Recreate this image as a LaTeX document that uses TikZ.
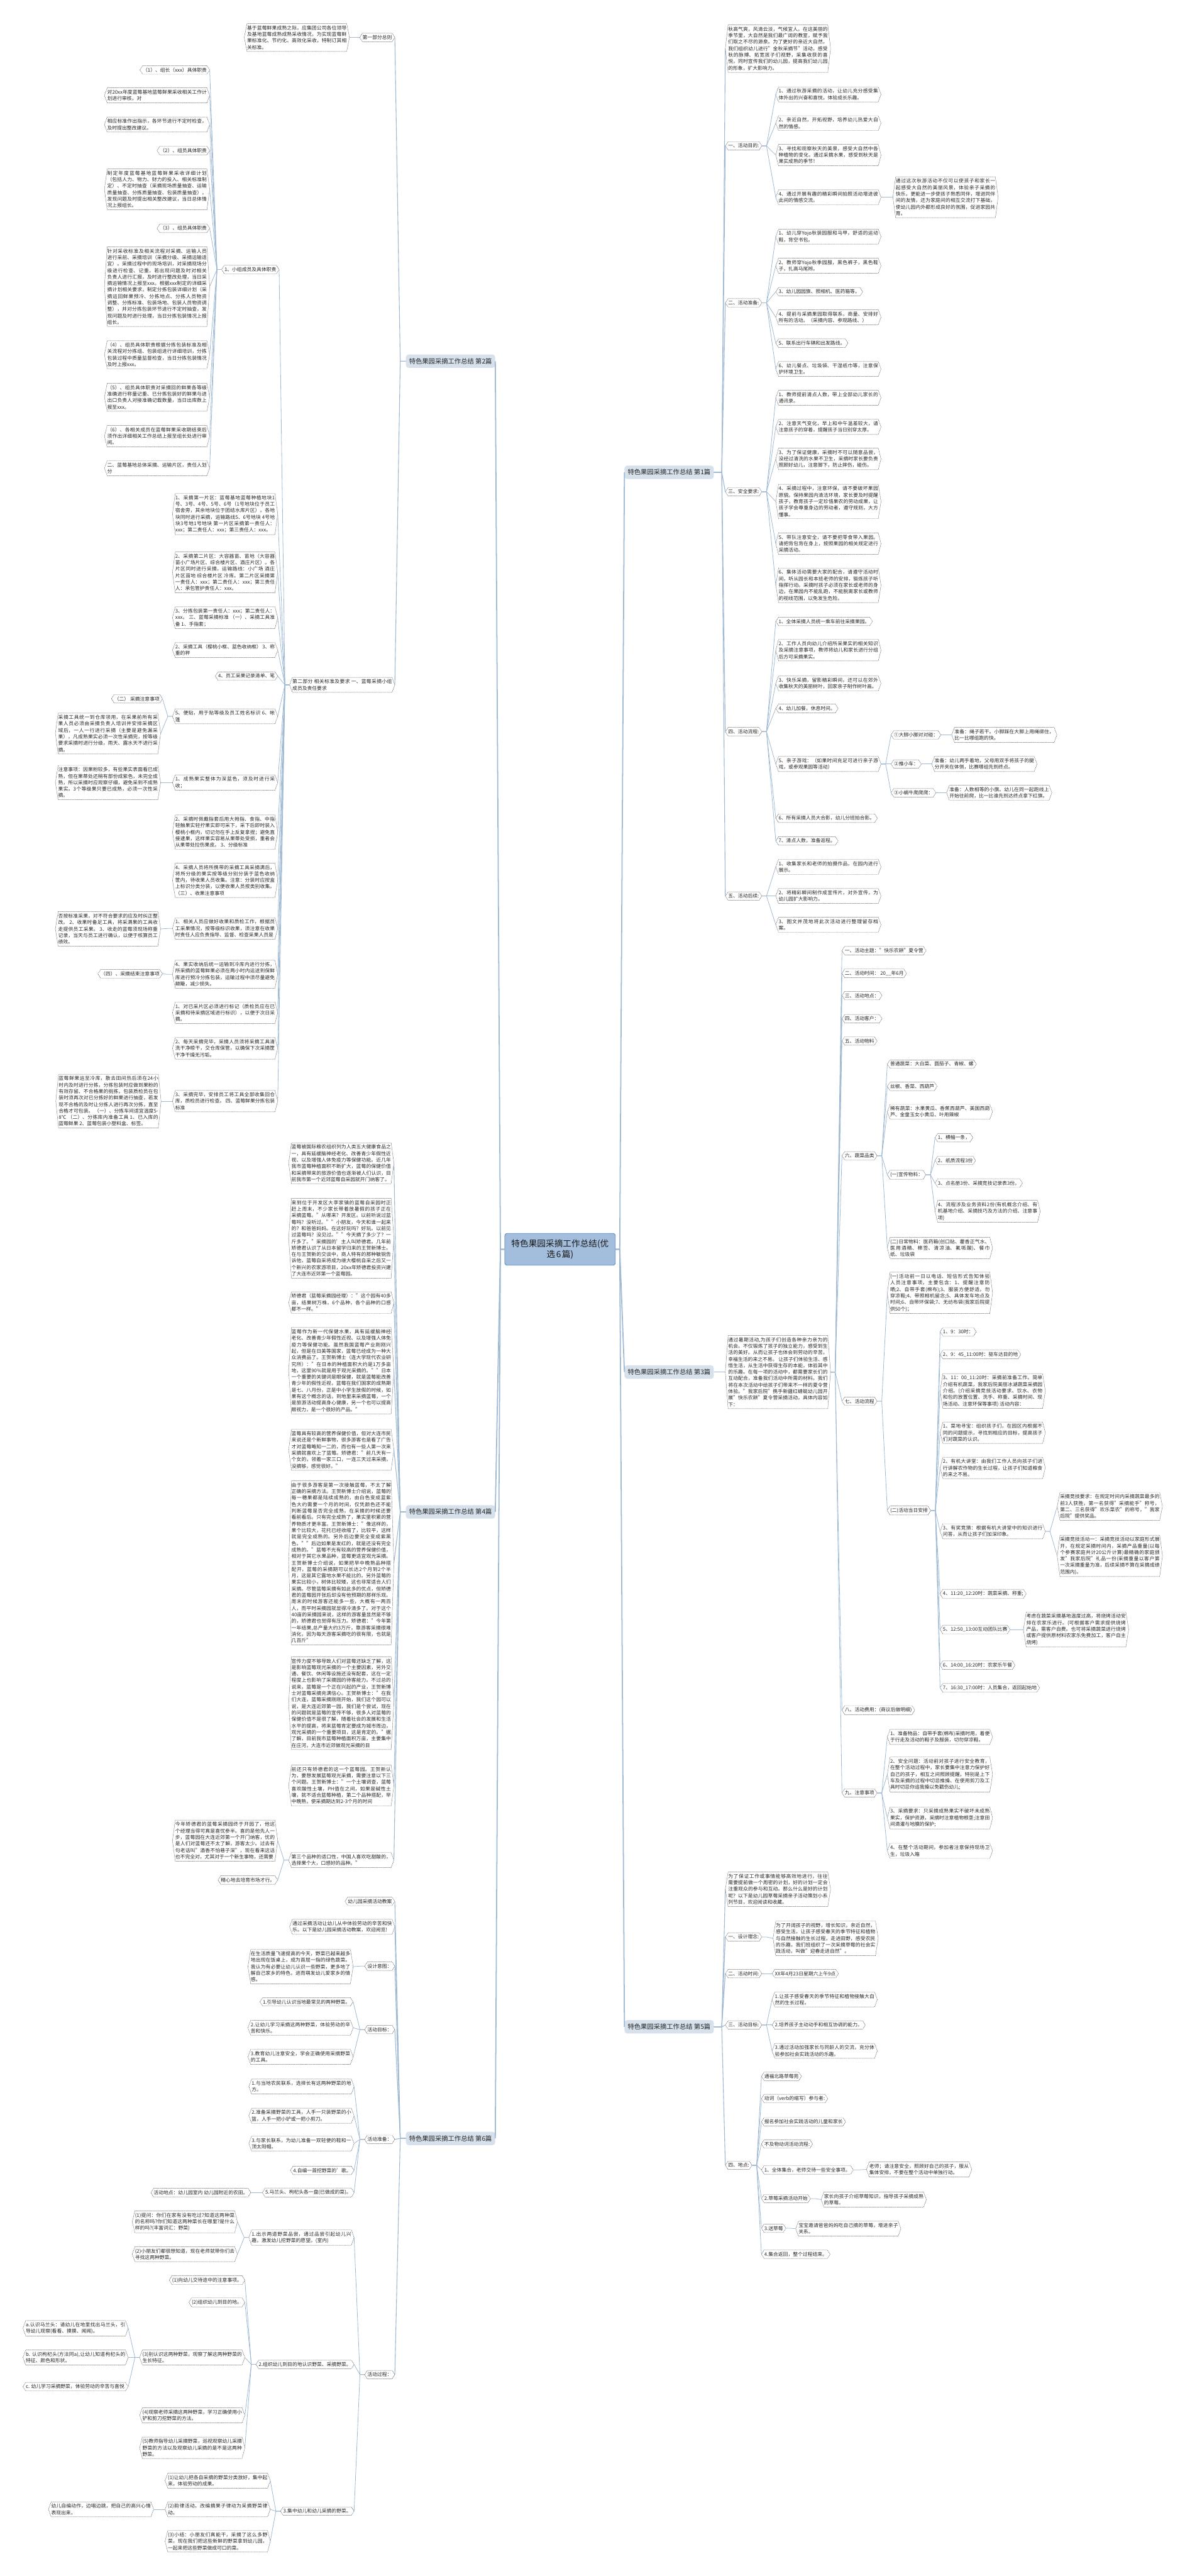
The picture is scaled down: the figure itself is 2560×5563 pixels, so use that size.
\documentclass[tikz,border=0pt]{standalone}
\usepackage{fontspec}
\setmainfont{Noto Sans CJK SC}
\usepackage{tikz}
\XeTeXlinebreaklocale "zh"
\XeTeXlinebreakskip=0pt plus 1pt
\definecolor{linkblue}{RGB}{160,186,212}
\definecolor{topicgray}{RGB}{214,225,236}
\definecolor{rootblue}{RGB}{163,190,220}
\definecolor{rootedge}{RGB}{60,110,175}

\begin{document}
\begin{tikzpicture}[x=1pt, y=-1pt,
    trunk/.style={draw=linkblue, line width=2.4pt},
    link/.style={draw=linkblue, line width=1.5pt},
    sub/.style={draw=linkblue, line width=1.1pt},
    hexline/.style={draw=black!70, line width=0.6pt, dash pattern=on 1.6pt off 1pt},
    hexa/.style={font=\fontsize{10.6}{14}\selectfont, text=black!85, inner xsep=6pt, inner ysep=4pt, align=left,
        append after command={\pgfextra{\pgfinterruptpath
            \draw[hexline] (\tikzlastnode.west) -- ([xshift=6pt]\tikzlastnode.north west) -- ([xshift=-6pt]\tikzlastnode.north east) -- (\tikzlastnode.east) -- ([xshift=-6pt]\tikzlastnode.south east) -- ([xshift=6pt]\tikzlastnode.south west) -- cycle;
        \endpgfinterruptpath}}},
    wide/.style={hexa, text width=215pt, align=justify},
    topic/.style={fill=topicgray, rounded corners=6pt, font=\fontsize{14}{17}\selectfont, text=black!85, inner xsep=7pt, inner ysep=8pt},
    rootbox/.style={fill=rootblue, draw=rootedge, line width=0.8pt, rounded corners=5pt, font=\fontsize{18.5}{24}\selectfont, text=black!90, align=center, text width=215pt, minimum height=69pt, inner xsep=12pt}
]
\fill[white] (0,0) rectangle (2560,5563);
\useasboundingbox (0,0) rectangle (2560,5563);

\node[rootbox] (root) at (1210,2698) {特色果园采摘工作总结(优\\选6篇)};

\node[topic, anchor=west] (p1) at (1349,1020) {特色果园采摘工作总结 第1篇};
\node[topic, anchor=west] (p3) at (1349,2963) {特色果园采摘工作总结 第3篇};
\node[topic, anchor=west] (p5) at (1349,4377) {特色果园采摘工作总结 第5篇};
\node[topic, anchor=east] (p2) at (1070,780) {特色果园采摘工作总结 第2篇};
\node[topic, anchor=east] (p4) at (1070,3265) {特色果园采摘工作总结 第4篇};
\node[topic, anchor=east] (p6) at (1070,4618) {特色果园采摘工作总结 第6篇};

% 第1篇
\node[wide, anchor=west] (e0) at (1567,105) {秋高气爽，风清云淡，气候宜人。在这美丽的季节里，大自然是我们最广阔的教室，赋予我们取之不尽的源泉。为了更好的亲近大自然，我们组织幼儿进行"金秋采摘节"活动，感受秋的脉搏、拓宽孩子们视野，采集收获的喜悦，同时宣传我们的幼儿园，提高我们幼儿园的形象，扩大影响力。};
\node[hexa, anchor=west] (e1) at (1567,315) {一、活动目的:};
\node[wide, anchor=west] (e1a) at (1676,204) {1、通过秋游采摘的活动，让幼儿充分感受集体外出的兴奋和喜悦，体验成长乐趣。};
\node[wide, anchor=west] (e1b) at (1676,266) {2、亲近自然，开拓视野，培养幼儿热爱大自然的情感。};
\node[wide, anchor=west] (e1c) at (1676,335) {3、寻找和观察秋天的美景，感受大自然中各种植物的变化，通过采摘水果，感受到秋天是果实成熟的季节！};
\node[wide, anchor=west] (e1d) at (1676,426) {4、通过开展有趣的精彩瞬间拍照活动增进彼此间的情感交流。};
\node[wide, anchor=west] (e1e) at (1929,426) {通过这次秋游活动不仅可以使孩子和家长一起感受大自然的美丽风景，体验亲子采摘的快乐，更能进一步使孩子熟悉同伴，增进同伴间的友情，还为家庭间的相互交流打下基础，使幼儿园内外都形成良好的氛围，促进家园共育。};
\node[hexa, anchor=west] (e2) at (1567,654) {二、活动准备:};
\node[wide, anchor=west] (e2a) at (1676,511) {1、幼儿穿Yojo秋装园服和马甲，舒适的运动鞋，背空书包。};
\node[wide, anchor=west] (e2b) at (1676,574) {2、教师穿Yojo秋季园服，黑色裤子，黑色鞋子，扎高马尾辫。};
\node[hexa, anchor=west] (e2c) at (1676,630) {3、幼儿园园旗、照相机、医药箱等。};
\node[wide, anchor=west] (e2d) at (1676,685) {4、提前与采摘果园取得联系，商量、安排好所有的活动。（采摘内容、参观路线、）};
\node[hexa, anchor=west] (e2e) at (1676,741) {5、联系出行车辆和出发路线。};
\node[wide, anchor=west] (e2f) at (1676,797) {6、幼儿餐点、垃圾袋、干湿纸巾等，注意保护环境卫生。};
\node[hexa, anchor=west] (e3) at (1567,1062) {三、安全要求:};
\node[wide, anchor=west] (e3a) at (1676,859) {1、教师提前清点人数，带上全部幼儿家长的通讯录。};
\node[wide, anchor=west] (e3b) at (1676,922) {2、注意天气变化，早上和中午温差较大，请注意孩子的穿着，提醒孩子当日别穿太厚。};
\node[wide, anchor=west] (e3c) at (1676,991) {3、为了保证健康，采摘时不可以随意品尝，没经过清洗的水果不卫生，采摘时家长要负责照顾好幼儿，注意脚下，防止摔伤，碰伤。};
\node[wide, anchor=west] (e3d) at (1676,1083) {4、采摘过程中，注意环保，请不要破坏果园原貌。保持果园内清洁环境，家长要及时提醒孩子，教育孩子一定珍惜果农的劳动成果，让孩子学会尊重身边的劳动者，遵守规则，大方懂事。};
\node[wide, anchor=west] (e3e) at (1676,1174) {5、带队注意安全，请不要把零食带入果园。请把背包背在身上，按照果园的相关规定进行采摘活动。};
\node[wide, anchor=west] (e3f) at (1676,1264) {6、集体活动需要大家的配合，请遵守活动时间，听从园长和本班老师的安排，锻炼孩子听指挥行动。采摘时孩子必须在家长或老师的身边，在果园内不能乱跑，不能脱离家长或教师的视线范围，以免发生危险。};
\node[hexa, anchor=west] (e4) at (1567,1580) {四、活动流程:};
\node[hexa, anchor=west] (e4a) at (1676,1342) {1、全体采摘人员统一乘车前往采摘果园。};
\node[wide, anchor=west] (e4b) at (1676,1404) {2、工作人员向幼儿介绍所采果实的相关知识及采摘注意事项，教师将幼儿和家长进行分组后方可采摘果实。};
\node[wide, anchor=west] (e4c) at (1676,1476) {3、快乐采摘，留影精彩瞬间，还可以在郊外收集秋天的美丽树叶，回家亲子制作树叶画。};
\node[hexa, anchor=west] (e4d) at (1676,1530) {4、幼儿加餐，休息时间。};
\node[wide, anchor=west] (e4e) at (1676,1650) {5、亲子游戏：（如果时间充足可进行亲子游戏，或参观果园等活动）};
\node[hexa, anchor=west] (g1) at (1925,1587) {①大脚小脚对对碰：};
\node[wide, anchor=west] (g1t) at (2056,1587) {准备：绳子若干。小脚踩在大脚上用绳绑住，比一比哪组跑的快。};
\node[hexa, anchor=west] (g2) at (1925,1650) {②推小车：};
\node[wide, anchor=west] (g2t) at (2013,1650) {准备：幼儿两手着地，父母用双手将孩子的腿分开夹在体侧，比赛哪组先到终点。};
\node[hexa, anchor=west] (g3) at (1925,1712) {③小蜗牛爬爬爬：};
\node[wide, anchor=west] (g3t) at (2045,1712) {准备：人数相等的小旗。幼儿在同一起跑线上开始往前爬，比一比谁先到达终点拿下红旗。};
\node[hexa, anchor=west] (e4f) at (1676,1767) {6、所有采摘人员大合影，幼儿分班拍合影。};
\node[hexa, anchor=west] (e4g) at (1676,1816) {7、清点人数，准备返程。};
\node[hexa, anchor=west] (e5) at (1567,1935) {五、活动后续:};
\node[wide, anchor=west] (e5a) at (1676,1872) {1、收集家长和老师的拍摄作品，在园内进行展示。};
\node[wide, anchor=west] (e5b) at (1676,1935) {2、将精彩瞬间制作成宣传片，对外宣传，为幼儿园扩大影响力。};
\node[wide, anchor=west] (e5c) at (1676,1997) {3、图文并茂地将此次活动进行整理留存档案。};

% 第3篇
\node[wide, anchor=west] (f0) at (1567,2963) {通过暑期活动,为孩子们创造各种亲力亲为的机会。不仅锻炼了孩子的独立能力，感受到生活的美好。从而让孩子也体会到劳动的辛苦，幸福生活的来之不易。 让孩子们体验生活、感悟生活，从生活中获得生存的本能，体验其中的乐趣。在每一项的活动中，都需要家长们的互动配合，准备我们活动中所需的材料。我们将在本次活动中给孩子们带来不一样的夏令营体验。"我家后院"携手新疆红蜻蜓幼儿园开展"快乐农耕"夏令营采摘活动，具体内容如下：};
\node[hexa, anchor=west] (f1) at (1819,2053) {一、活动主题："快乐农耕"夏令营};
\node[hexa, anchor=west] (f2) at (1819,2102) {二、活动时间： 20\_\_年6月};
\node[hexa, anchor=west] (f3) at (1819,2150) {三、活动地点：};
\node[hexa, anchor=west] (f4) at (1819,2200) {四、活动客户：};
\node[hexa, anchor=west] (f5) at (1819,2248) {五、活动物料};
\node[hexa, anchor=west] (f6) at (1819,2496) {六、蔬菜品类};
\node[hexa, anchor=west] (f6a) at (1917,2298) {普通蔬菜：大白菜、圆茄子、青椒、螺};
\node[hexa, anchor=west] (f6b) at (1917,2346) {丝椒、香菜、西葫芦};
\node[wide, anchor=west] (f6c) at (1917,2401) {稀有蔬菜：水果黄瓜、香蕉西葫芦、美国西葫芦、金童玉女小黄瓜、叶用辣椒};
\node[hexa, anchor=west] (f6d) at (1917,2537) {(一)宣传物料：};
\node[hexa, anchor=west] (f6d1) at (2020,2457) {1、横幅一条，};
\node[hexa, anchor=west] (f6d2) at (2020,2506) {2、纸质流程3份};
\node[hexa, anchor=west] (f6d3) at (2020,2555) {3、点名册3份、采摘竞技记录表3份。};
\node[wide, anchor=west] (f6d4) at (2020,2616) {4、流程涉及业务资料2份(有机概念介绍、有机基地介绍、采摘技巧及方法的介绍、注意事项)};
\node[wide, anchor=west] (f6e) at (1917,2695) {(二)日常物料：医药箱(创口贴、藿香正气水、医用酒精、棉签、清凉油、氟哌酸)、餐巾纸、垃圾袋};
\node[hexa, anchor=west] (f7) at (1819,3026) {七、活动流程};
\node[wide, anchor=west] (f7a) at (1917,2792) {(一)活动前一日以电话、短信形式告知体验人员注意事项，主要包含：1、提醒注意防晒;2、自带手套(棉布);3、服装方便舒适，勿穿凉鞋;4、带照相机留念;5、具体发车地点及时间;6、自带环保袋;7、无纺布袋(我家后院提供50个)；};
\node[hexa, anchor=west] (f7b) at (1917,3262) {(二)活动当日安排};
\node[hexa, anchor=west] (h1) at (2031,2876) {1、9：30时：};
\node[hexa, anchor=west] (h2) at (2031,2925) {2、9：45\_11:00时：驱车达目的地};
\node[wide, anchor=west] (h3) at (2031,3004) {3、11：00\_11:20时：采摘前准备工作。简单介绍有机蔬菜，我家后院美丽冰湖蔬菜采摘园介绍。(介绍采摘竞技活动要求、饮水、衣物和包的放置位置、洗手、称重、采摘时间、现场活动、注意环保等事项) 活动内容：};
\node[wide, anchor=west] (h4) at (2031,3094) {1、菜地寻宝：组织孩子们，在园区内根据不同的问题提示，寻找到相应的目标，提高孩子们对蔬菜的认识。};
\node[wide, anchor=west] (h5) at (2031,3170) {2、有机大讲堂：由我们工作人员向孩子们进行讲解农作物的生长过程，让孩子们知道粮食的来之不易。};
\node[wide, anchor=west] (h6) at (2031,3307) {3、有奖竞猜：根据有机大讲堂中的知识进行问答，从而让孩子们加深印象。};
\node[wide, anchor=west] (h6a) at (2284,3253) {采摘竞技要求：在规定时间内采摘蔬菜最多的前3人获胜，第一名获得"采摘能手"称号，第二、三名获得"欢乐菜农"的称号，"我家后院"提供奖品。};
\node[wide, anchor=west] (h6b) at (2284,3360) {采摘竞技活动一：采摘竞技活动以家庭形式展开，在规定采摘时间内，采摘产品重量(以每个参赛家庭共计20公斤计算)最精确的家庭颁发"我家后院"礼品一份(采摘重量以客户第一次采摘重量为准，后续采摘不算在采摘成绩范围内)。};
\node[hexa, anchor=west] (h7) at (2031,3442) {4、11:20\_12:20时：蔬菜采摘、称重;};
\node[hexa, anchor=west] (h8) at (2031,3519) {5、12:50\_13:00互动团队比赛};
\node[wide, anchor=west] (h8a) at (2211,3519) {考虑在蔬菜采摘基地温度过高，将烧烤活动安排在农家乐进行。(可根据客户需求提供烧烤产品，需客户自费。也可将采摘蔬菜进行烧烤或客户提供原材料农家乐免费加工，客户自主烧烤)};
\node[hexa, anchor=west] (h9) at (2031,3596) {6、14:00\_16:20时：农家乐午餐};
\node[hexa, anchor=west] (h10) at (2031,3645) {7、16:30\_17:00时：人员集合，返回起始地};
\node[hexa, anchor=west] (f8) at (1819,3693) {八、活动费用：(商议后做明细)};
\node[hexa, anchor=west] (f9) at (1819,3872) {九、注意事项};
\node[wide, anchor=west] (f9a) at (1917,3751) {1、准备物品：自带手套(棉布)采摘时用，着便于行走及活动的鞋子及服装，切勿穿凉鞋。};
\node[wide, anchor=west] (f9b) at (1917,3832) {2、安全问题：活动前对孩子进行安全教育，在整个活动过程中，家长要集中注意力保护好自己的孩子，相互之间照顾提醒。特别是上下车及采摘的过程中切忌推搡、在使用剪刀及工具时切忌你追我搡以免戳伤幼儿;};
\node[wide, anchor=west] (f9c) at (1917,3926) {3、采摘要求：只采摘成熟果实不破坏未成熟果实，保护资源，采摘时注意植物根茎;注意田间滴灌与地膜的保护;};
\node[wide, anchor=west] (f9d) at (1917,3997) {4、在整个活动期间，参加者注意保持现场卫生，垃圾入箱};

% 第5篇
\node[wide, anchor=west] (k0) at (1567,4080) {为了保证工作或事情能够高效地进行，往往需要提前做一个周密的计划，好的计划一定会注重观众的参与和互动。那么什么是好的计划呢？以下是幼儿园草莓采摘亲子活动策划小系列节目，欢迎阅读和收藏。};
\node[hexa, anchor=west] (k1) at (1567,4183) {一、设计理念:};
\node[wide, anchor=west] (k1a) at (1670,4186) {为了开阔孩子的视野，增长知识，亲近自然，感受生活，让孩子感受春天的季节特征和植物与自然接触的生长过程，走进田野，感受农民的乐趣，我们班组织了一次采摘草莓的社会实践活动，叫做"迎春走进自然"。};
\node[hexa, anchor=west] (k2) at (1567,4262) {二、活动时间:};
\node[hexa, anchor=west] (k2a) at (1668,4262) {XX年4月23日星期六上午9点};
\node[hexa, anchor=west] (k3) at (1567,4373) {三、活动目标:};
\node[wide, anchor=west] (k3a) at (1668,4318) {1.让孩子感受春天的季节特征和植物接触大自然的生长过程。};
\node[hexa, anchor=west] (k3b) at (1668,4373) {2.培养孩子主动动手和相互协调的能力。};
\node[wide, anchor=west] (k3c) at (1668,4429) {3.通过活动加强家长与同龄人的交流，充分体验参加社会实践活动的乐趣。};
\node[hexa, anchor=west] (k4) at (1567,4676) {四、地点:};
\node[hexa, anchor=west] (k4a) at (1645,4484) {通福北路草莓苑};
\node[hexa, anchor=west] (k4b) at (1645,4532) {动词（verb的缩写）参与者:};
\node[hexa, anchor=west] (k4c) at (1645,4582) {报名参加社会实践活动的儿童和家长};
\node[hexa, anchor=west] (k4d) at (1645,4630) {不及物动词活动流程:};
\node[hexa, anchor=west] (k4e) at (1645,4686) {1、全体集合，老师交待一些安全事项。};
\node[wide, anchor=west] (k4e1) at (1872,4685) {老师；请注意安全，照顾好自己的孩子，服从集体安排，不要在整个活动中单独行动。};
\node[hexa, anchor=west] (k4f) at (1645,4748) {2.草莓采摘活动开始};
\node[wide, anchor=west] (k4f1) at (1774,4750) {家长向孩子介绍草莓知识，指导孩子采摘成熟的草莓。};
\node[hexa, anchor=west] (k4g) at (1645,4812) {3.送草莓};
\node[wide, anchor=west] (k4g1) at (1719,4813) {宝宝邀请爸爸妈妈吃自己摘的草莓，增进亲子关系。};
\node[hexa, anchor=west] (k4h) at (1645,4868) {4.集合返回，整个过程结束。};

% 第2篇
\node[hexa, anchor=east] (a1) at (853,81) {第一部分总则};
\node[wide, anchor=east] (a1t) at (755,81) {基于蓝莓鲜果成熟之际，应集团公司各位领导及基地蓝莓成熟成熟采收情况，为实现蓝莓鲜果标准化、节约化、高效化采收，特制订其相关标准。};
\node[wide, anchor=east] (b0) at (853,1479) {第二部分 相关标准及要求 一、蓝莓采摘小组成员及责任要求};
\node[hexa, anchor=east] (b1) at (603,582) {1、小组成员及具体职责};
\node[hexa, anchor=east] (b1a) at (453,151) {（1）、组长（xxx）具体职责};
\node[wide, anchor=east] (b1b) at (453,206) {对20xx年度蓝莓基地蓝莓鲜果采收相关工作计划进行审核，对};
\node[wide, anchor=east] (b1c) at (453,269) {相应标准作出指示，各环节进行不定时检查，及时提出整改建议。};
\node[hexa, anchor=east] (b1d) at (453,325) {（2）、组员具体职责};
\node[wide, anchor=east] (b1e) at (453,409) {制定年度蓝莓基地蓝莓鲜果采收详细计划（包括人力、物力、财力的投入、相关标准制定）、不定时抽查（采摘现场质量抽查、运输质量抽查、分拣质量抽查、包装质量抽查），发现问题及时提出相关整改建议，当日总体情况上报组长。};
\node[hexa, anchor=east] (b1f) at (453,493) {（3）、组员具体职责};
\node[wide, anchor=east] (b1g) at (453,619) {针对采收标准及相关流程对采摘、运输人员进行采前、采摘培训（采摘分级、采摘运输适宜）。采摘过程中的现场培训，对采摘现场分级进行检查、记重，若出现问题及时对相关负责人进行汇报，及时进行整改处理，当日采摘运输情况上报至xxx。根据xxx制定的详细采摘计划相关要求，制定分拣包装详细计划（采摘运回鲜果预冷、分拣地点、分拣人员物资调整、分拣标准、包装场地、包装人员物资调整），并对分拣包装环节进行不定时抽查，发现问题及时进行处理，当日分拣包装情况上报组长。};
\node[wide, anchor=east] (b1h) at (453,766) {（4）、组员具体职责根据分拣包装标准及相关流程对分拣组、包装组进行详细培训，分拣包装过程中质量监督检查，当日分拣包装情况及时上报xxx。};
\node[wide, anchor=east] (b1i) at (453,858) {（5）、组员具体职责对采摘回的鲜果各等级准确进行称量记重、已分拣包装好的鲜果与进出口负责人对接准确记载数量，当日出库数上报至xxx。};
\node[wide, anchor=east] (b1j) at (453,942) {（6）、各相关成员在蓝莓鲜果采收期结束后须作出详细相关工作总结上报至组长处进行审阅。};
\node[wide, anchor=east] (b1k) at (453,1011) {二、蓝莓基地总体采摘、运输片区，责任人划分};
\node[wide, anchor=east] (b2) at (600,1110) {1、采摘第一片区：蓝莓基地蓝莓种植地块1号、3号、4号、5号、6号（1号地块位于员工宿舍旁，其余地块位于团结水库片区）。各地块同时进行采摘，运输路线5、6号地块 4号地块3号地1号地块 第一片区采摘第一责任人：xxx；第二责任人：xxx；第三责任人：xxx。};
\node[wide, anchor=east] (b3) at (600,1236) {2、采摘第二片区：大容器苗、苗地（大容器苗小广场片区、综合楼片区、酒庄片区）。各片区同时进行采摘，运输路线：小广场 酒庄片区苗地 综合楼片区 冷库。第二片区采摘第一责任人：xxx；第二责任人：xxx；第三责任人：承包管护责任人：xxx。};
\node[wide, anchor=east] (b4) at (600,1334) {3、分拣包装第一责任人：xxx；第二责任人：xxx。 三、蓝莓采摘标准 （一）、采摘工具准备 1、手指套；};
\node[wide, anchor=east] (b5) at (600,1404) {2、采摘工具（樱桃小框、蓝色收纳框） 3、称重的秤};
\node[hexa, anchor=east] (b6) at (600,1460) {4、员工采果记录清单、笔};
\node[wide, anchor=east] (b7) at (600,1547) {5、便贴，用于贴等级及员工姓名标识 6、帐篷};
\node[hexa, anchor=east] (b7a) at (351,1509) {（二） 采摘注意事项};
\node[wide, anchor=east] (b7b) at (347,1584) {采摘工具统一到仓库领用，在采果前所有采果人员必须由采摘负责人培训并安排采摘区域后，一人一行进行采摘（主要是避免漏采果），凡成熟果实必须一次性采摘完，按等级要求采摘时进行分级，雨天、露水天不进行采摘。};
\node[wide, anchor=east] (b8) at (600,1690) {1、成熟果实整体为深蓝色，须及时进行采收；};
\node[wide, anchor=east] (b8a) at (347,1690) {注意事项：因果粉较多，有些果实表面看已成熟，但在果蒂处还稍有部份成紫色，未完全成熟，所以采摘时应观察仔细，避免采到不成熟果实。3个等级果只要已成熟，必须一次性采摘。};
\node[wide, anchor=east] (b9) at (600,1797) {2、采摘时佩戴指套后用大拇指、食指、中指轻触果实轻拧果实即可采下，采下后即时装入樱桃小框内，切记勿在手上反复拿捏；避免直接逮果，这样果实容易从果蒂处受损，重者会从果蒂处拉伤果皮。 3、分级标准};
\node[wide, anchor=east] (b10) at (600,1901) {4、采摘人员将所携带的采摘工具采摘满后，将所分级的果实按等级分别分装于蓝色收纳筐内，待收果人员收集。注意：分装时应按盒上标识分类分装，以便收果人员按类别收集。 （三）、收果注意事项};
\node[wide, anchor=east] (b11) at (600,2005) {1、相关人员应做好收果和质检工作，根据员工采果情况，按等级标识收果，须注意在收果时责任人应负责指导、监督、检查采果人员是};
\node[wide, anchor=east] (b11a) at (347,2006) {否按标准采果，对不符合要求的应及时纠正整改。 2、收果时备足工具，将采满果的工具收走提供员工采果。 3、收走的蓝莓须现场称重记录，当天与员工进行确认，以便于核算员工绩效。};
\node[wide, anchor=east] (b12) at (600,2104) {4、果实收纳后统一运输到冷库内进行分拣，所采摘的蓝莓鲜果必须在两小时内运送到保鲜库进行预冷分拣包装，运输过程中须尽量避免颠簸，减少损失。};
\node[hexa, anchor=east] (b12a) at (351,2103) {（四）、采摘结束注意事项};
\node[wide, anchor=east] (b13) at (600,2187) {1、对已采片区必须进行标记（质检员应在已采摘和待采摘区域进行标识），以便于次日采摘。};
\node[wide, anchor=east] (b14) at (600,2264) {2、每天采摘完毕，采摘人员须将采摘工具清洗干净晾干，交仓库保管，以确保下次采摘筐干净干燥无污垢。};
\node[wide, anchor=east] (b15) at (600,2378) {3、采摘完毕，安排员工将工具全部收集回仓库，质检员进行检查。 四、蓝莓鲜果分拣包装标准};
\node[wide, anchor=east] (b15a) at (348,2378) {蓝莓鲜果运至冷库，散去田间热后须在24小时内及时进行分拣，分拣包装时应做到果粉的有效存留、不合格果的挑拣，包装质检员在包装时须再次对已分拣好的鲜果进行抽查，若发现不合格的及时让分拣人进行再次分拣，直至合格才可包装。 （一）、分拣车间适宜温度5-8℃ （二）、分拣库内准备工具 1、已入库的蓝莓鲜果 2、蓝莓包装小塑料盒、标签。};

% 第4篇
\node[wide, anchor=east] (c1) at (851,2512) {蓝莓被国际粮农组织列为人类五大健康食品之一，具有延缓脑神经老化、改善青少年假性近视、以及增强人体免疫力等保健功能。近几年我市蓝莓种植面积不断扩大，蓝莓的保健价值和采摘带来的旅游价值也逐渐被人们认识，目前我市第一个近郊蓝莓自采园就开门纳客了。};
\node[wide, anchor=east] (c2) at (851,2674) {来到位于开发区大李家镇的蓝莓自采园时正赶上周末，不少家长带着放暑假的孩子正在采摘蓝莓。"从哪来？开发区。以前听说过蓝莓吗？没听过。""小朋友，今天和谁一起来的？和爸爸妈妈。在这好玩吗？好玩。以前见过蓝莓吗？没见过。""今天摘了多少了？一斤多了。"采摘园的'主人叫矫德君。几年前矫德君认识了从日本留学归来的王贺新博士。在与王贺新的交谈中，商人特有的那种敏锐告诉他，蓝莓自采将成为继大樱桃自采之后又一个新兴的农家游项目，20xx年矫德君投资兴建了大连市近郊第一个蓝莓园。};
\node[wide, anchor=east] (c3) at (851,2813) {矫德君（蓝莓采摘园经理）："这个园有40多亩，结果树万株，6个品种，各个品种的口感都不一样。"};
\node[wide, anchor=east] (c4) at (851,2960) {蓝莓作为新一代保健水果，具有延缓脑神经老化、改善青少年假性近视、以及增强人体免疫力等保健功能。虽然我国蓝莓产业刚刚兴起，但是在日美等国家，蓝莓已经成为一种大众消费品了。王贺新博士（连大学现代农业研究所）："在日本的种植面积大约是1万多亩地，这里90\%就是用于观光采摘的。""日本一个重要的关键词是眼保健，就是蓝莓能改善青少年的假性近视，蓝莓在我们国家的成熟期是七、八月份，正是中小学生放假的时候，如果有这个概念的话，到地里来采摘蓝莓，一个是旅游活动提高身心健康，另一个也可以提高眼视力，是一个很好的产品。"};
\node[wide, anchor=east] (c5) at (851,3131) {蓝莓具有较高的营养保健价值，但对大连市民来说还是个新鲜事物，很多游客也是看了广告才对蓝莓略知一二的，而也有一些人第一次来采摘就喜欢上了蓝莓。矫德君："前几天有一个女的，领着一家三口，一连三天过来采摘，没摘够，感觉很好。"};
\node[wide, anchor=east] (c6) at (851,3375) {由于很多游客是第一次接触蓝莓，不太了解正确的采摘方法。王贺新博士介绍说，蓝莓的每一穗果都是陆续成熟的，由白色变成蓝紫色大约需要一个月的时间，仅凭颜色还不能判断蓝莓是否完全成熟，在采摘的时候还要看前看后。只有完全成熟了，果实里积累的营养物质才更丰富。王贺新博士："像这样的，果个比较大，花托已经收缩了，比较平，这样就是完全成熟的。另外后边要完全变成紫黑色。""后边如果是发红的，就是还没有完全成熟的。"蓝莓不光有较高的营养保健价值，相对于其它水果品种，蓝莓更适宜观光采摘。王贺新博士介绍说，如果把早中晚熟品种搭配开，蓝莓的采摘期可以长达2个月到2个半月，这是其它露地水果不能比的。另外蓝莓的果实比较小，树体比较矮，这也非常适合人们采摘。尽管蓝莓采摘有如此多的优点，但矫德君的蓝莓园开张后却没有他预期的那样乐观。周末的时候游客还能多一些，大概有一两百人，而平时采摘园就显得冷清多了。对于这个40亩的采摘园来说，这样的游客量显然是不够的，矫德君也觉得有压力。矫德君："今年第一年结果,总产量大约3万斤，靠游客采摘很难消化，因为每天游客采摘吃的很有限，也就是几百斤"};
\node[wide, anchor=east] (c7) at (851,3678) {宣传力度不够导致人们对蓝莓还缺乏了解，这是影响蓝莓观光采摘的一个主要因素，另外交通、餐饮、休闲等设施还没有配套，这在一定程度上也影响了采摘园的待客能力。不过总的说来，蓝莓是一个正在兴起的产业，王贺新博士对蓝莓采摘充满信心。王贺新博士："在我们大连，蓝莓采摘刚刚开始，我们这个园可以说，是大连近郊第一园，我们是个尝试，现在的问题就是蓝莓的宣传不够，很多人对蓝莓的保健价值不是很了解，随着社会的发展和生活水平的提高，将来蓝莓肯定要成为城市周边，观光采摘的一个重要项目，这是肯定的。"据了解，目前我市蓝莓种植面积万亩，主要集中在庄河，大连市近郊做观光采摘的目};
\node[wide, anchor=east] (c8) at (851,3856) {前还只有矫德君的这一个蓝莓园。王贺新认为，要想发展蓝莓观光采摘，需要注意以下三个问题。王贺新博士："一个土壤调查，蓝莓喜欢酸性土壤，PH值在之间，如果是碱性土壤，就不适合蓝莓种植，第二个品种搭配，早中晚熟，使采摘期达到2-3个月的时间};
\node[wide, anchor=east] (c9) at (851,4017) {第三个品种的适口性，中国人喜欢吃甜酸的，选择果个大，口感好的品种。"};
\node[wide, anchor=east] (c9a) at (600,3975) {今年矫德君的蓝莓采摘园终于开园了，他这个经理当得可真是喜忧参半。喜的是他先人一步，蓝莓园在大连近郊第一个开门纳客，忧的是人们对蓝莓还不太了解，游客太少。过去有句老话叫"酒香不怕巷子深"，现在看来这话也不完全对，尤其对于一个新生事物，还需要};
\node[hexa, anchor=east] (c9b) at (600,4060) {精心地去培育市场才行。};

% 第6篇
\node[hexa, anchor=east] (d1) at (853,4106) {幼儿园采摘活动教案};
\node[wide, anchor=east] (d2) at (853,4161) {通过采摘活动让幼儿从中体验劳动的辛苦和快乐。以下是幼儿园采摘活动教案，欢迎阅览!};
\node[hexa, anchor=east] (d3) at (853,4246) {设计意图：};
\node[wide, anchor=east] (d3a) at (763,4247) {在生活质量飞速提高的今天，野菜已越来越多地出现在饭桌上，成为首屈一指的绿色蔬菜。我认为有必要让幼儿认识一些野菜，更多地了解自己家乡的特色，进而萌发幼儿爱家乡的情感。};
\node[hexa, anchor=east] (d4) at (853,4383) {活动目标：};
\node[hexa, anchor=east] (d4a) at (763,4323) {1.引导幼儿认识当地最常见的两种野菜。};
\node[wide, anchor=east] (d4b) at (763,4379) {2.让幼儿学习采摘这两种野菜，体验劳动的辛苦和快乐。};
\node[wide, anchor=east] (d4c) at (763,4442) {3.教育幼儿注意安全，学会正确使用采摘野菜的工具。};
\node[hexa, anchor=east] (d5) at (853,4620) {活动准备：};
\node[wide, anchor=east] (d5a) at (765,4506) {1.与当地农民联系，选择长有这两种野菜的地方。};
\node[wide, anchor=east] (d5b) at (765,4569) {2.准备采摘野菜的工具，人手一只装野菜的小篮，人手一把小铲或一把小剪刀。};
\node[wide, anchor=east] (d5c) at (765,4629) {3.与家长联系，为幼儿准备一双轻便的鞋和一顶太阳帽。};
\node[hexa, anchor=east] (d5d) at (765,4687) {4.自编一首挖野菜的'歌。};
\node[hexa, anchor=east] (d5e) at (765,4735) {5.马兰头、枸杞头各一盘(已做成的菜)。};
\node[hexa, anchor=east] (d5f) at (542,4735) {活动地点：幼儿园室内 幼儿园附近的农田。};
\node[hexa, anchor=east] (d6) at (853,5128) {活动过程：};
\node[wide, anchor=east] (d6a) at (765,4832) {1.出示两道野菜品尝，通过品尝引起幼儿兴趣，激发幼儿挖野菜的愿望。(室内)};
\node[wide, anchor=east] (d6a1) at (513,4798) {(1)提问：你们在家有没有吃过?知道这两种菜的名称吗?你们知道这两种菜长在哪里?是什么样的吗?(丰富词汇：野菜)};
\node[wide, anchor=east] (d6a2) at (513,4868) {(2)小朋友们都很想知道，现在老师就带你们去寻找这两种野菜。};
\node[hexa, anchor=east] (d6b) at (765,5106) {2.组织幼儿到目的地认识野菜、采摘野菜。};
\node[hexa, anchor=east] (d6b1) at (529,4924) {(1)向幼儿交待途中的注意事项。};
\node[hexa, anchor=east] (d6b2) at (529,4972) {(2)组织幼儿到目的地。};
\node[wide, anchor=east] (d6b3) at (529,5091) {(3)别认识这两种野菜，观察了解这两种野菜的生长特征。};
\node[wide, anchor=east] (d6b3a) at (277,5028) {a.认识马兰头：请幼儿在地里找出马兰头，引导幼儿观察(看看、摸摸、闻闻)。};
\node[wide, anchor=east] (d6b3b) at (277,5091) {b. 认识枸杞头(方法同a),让幼儿知道枸杞头的特征、颜色和形状。};
\node[wide, anchor=east] (d6b3c) at (277,5154) {c. 幼儿学习采摘野菜，体验劳动的辛苦与喜悦};
\node[wide, anchor=east] (d6b4) at (529,5216) {(4)观察老师采摘这两种野菜，学习正确使用小铲和剪刀挖野菜的方法。};
\node[wide, anchor=east] (d6b5) at (529,5286) {(5)教师指导幼儿采摘野菜，巡视观察幼儿采摘野菜的方法以及观察幼儿采摘的是不是这两种野菜。};
\node[hexa, anchor=east] (d6c) at (765,5423) {3.集中幼儿和幼儿采摘的野菜。};
\node[wide, anchor=east] (d6c1) at (584,5357) {(1)让幼儿把各自采摘的野菜分类放好，集中起来，体验劳动的成果。};
\node[wide, anchor=east] (d6c2) at (584,5419) {(2)韵律活动。改编摘果子律动为采摘野菜律动。};
\node[wide, anchor=east] (d6c2a) at (332,5419) {幼儿自编动作，边唱边跳，把自己的高兴心情表现出来。};
\node[wide, anchor=east] (d6c3) at (584,5488) {(3)小结：小朋友们真能干，采摘了这么多野菜，现在我们把这些新鲜的野菜拿到幼儿园，一起来把这些野菜做成可口的菜。};

% connectors
\foreach \p in {p2,p4,p6} \draw[trunk] (root.west) -- ++(-9,0) -- (\p.east);
\foreach \p in {p1,p3,p5} \draw[trunk] (root.east) -- ++(9,0) -- (\p.west);

\foreach \c in {e0,e1,e2,e3,e4,e5} \draw[link] (p1.east) -- ++(17,0) -- (\c.west);
\draw[link] (p3.east) -- ++(17,0) -- (f0.west);
\foreach \c in {k0,k1,k2,k3,k4} \draw[link] (p5.east) -- ++(17,0) -- (\c.west);
\foreach \c in {a1,b0} \draw[link] (p2.west) -- ++(-12,0) -- (\c.east);
\foreach \c in {c1,c2,c3,c4,c5,c6,c7,c8,c9} \draw[link] (p4.west) -- ++(-12,0) -- (\c.east);
\foreach \c in {d1,d2,d3,d4,d5,d6} \draw[link] (p6.west) -- ++(-12,0) -- (\c.east);

\foreach \c in {e1a,e1b,e1c,e1d} \draw[sub] (e1.east) -- ++(10,0) -- (\c.west);
\draw[sub] (e1d.east) -- ++(10,0) -- (e1e.west);
\foreach \c in {e2a,e2b,e2c,e2d,e2e,e2f} \draw[sub] (e2.east) -- ++(10,0) -- (\c.west);
\foreach \c in {e3a,e3b,e3c,e3d,e3e,e3f} \draw[sub] (e3.east) -- ++(10,0) -- (\c.west);
\foreach \c in {e4a,e4b,e4c,e4d,e4e,e4f,e4g} \draw[sub] (e4.east) -- ++(10,0) -- (\c.west);
\foreach \c in {g1,g2,g3} \draw[sub] (e4e.east) -- ++(10,0) -- (\c.west);
\foreach \c/\t in {g1/g1t,g2/g2t,g3/g3t} \draw[sub] (\c.east) -- ++(10,0) -- (\t.west);
\foreach \c in {e5a,e5b,e5c} \draw[sub] (e5.east) -- ++(10,0) -- (\c.west);

\foreach \c in {f1,f2,f3,f4,f5,f6,f7,f8,f9} \draw[sub] (f0.east) -- ++(10,0) -- (\c.west);
\foreach \c in {f6a,f6b,f6c,f6d,f6e} \draw[sub] (f6.east) -- ++(10,0) -- (\c.west);
\foreach \c in {f6d1,f6d2,f6d3,f6d4} \draw[sub] (f6d.east) -- ++(10,0) -- (\c.west);
\foreach \c in {f7a,f7b} \draw[sub] (f7.east) -- ++(10,0) -- (\c.west);
\foreach \c in {h1,h2,h3,h4,h5,h6,h7,h8,h9,h10} \draw[sub] (f7b.east) -- ++(10,0) -- (\c.west);
\foreach \c in {h6a,h6b} \draw[sub] (h6.east) -- ++(10,0) -- (\c.west);
\draw[sub] (h8.east) -- ++(10,0) -- (h8a.west);
\foreach \c in {f9a,f9b,f9c,f9d} \draw[sub] (f9.east) -- ++(10,0) -- (\c.west);

\draw[sub] (k1.east) -- ++(10,0) -- (k1a.west);
\draw[sub] (k2.east) -- ++(10,0) -- (k2a.west);
\foreach \c in {k3a,k3b,k3c} \draw[sub] (k3.east) -- ++(10,0) -- (\c.west);
\foreach \c in {k4a,k4b,k4c,k4d,k4e,k4f,k4g,k4h} \draw[sub] (k4.east) -- ++(10,0) -- (\c.west);
\foreach \c/\t in {k4e/k4e1,k4f/k4f1,k4g/k4g1} \draw[sub] (\c.east) -- ++(10,0) -- (\t.west);

\draw[sub] (a1.west) -- ++(-10,0) -- (a1t.east);
\foreach \c in {b1,b2,b3,b4,b5,b6,b7,b8,b9,b10,b11,b12,b13,b14,b15} \draw[sub] (b0.west) -- ++(-10,0) -- (\c.east);
\foreach \c in {b1a,b1b,b1c,b1d,b1e,b1f,b1g,b1h,b1i,b1j,b1k} \draw[sub] (b1.west) -- ++(-10,0) -- (\c.east);
\foreach \c in {b7a,b7b} \draw[sub] (b7.west) -- ++(-10,0) -- (\c.east);
\foreach \c/\t in {b8/b8a,b11/b11a,b12/b12a,b15/b15a} \draw[sub] (\c.west) -- ++(-10,0) -- (\t.east);

\foreach \c in {c9a,c9b} \draw[sub] (c9.west) -- ++(-10,0) -- (\c.east);

\draw[sub] (d3.west) -- ++(-10,0) -- (d3a.east);
\foreach \c in {d4a,d4b,d4c} \draw[sub] (d4.west) -- ++(-10,0) -- (\c.east);
\foreach \c in {d5a,d5b,d5c,d5d,d5e} \draw[sub] (d5.west) -- ++(-10,0) -- (\c.east);
\draw[sub] (d5e.west) -- ++(-10,0) -- (d5f.east);
\foreach \c in {d6a,d6b,d6c} \draw[sub] (d6.west) -- ++(-10,0) -- (\c.east);
\foreach \c in {d6a1,d6a2} \draw[sub] (d6a.west) -- ++(-10,0) -- (\c.east);
\foreach \c in {d6b1,d6b2,d6b3,d6b4,d6b5} \draw[sub] (d6b.west) -- ++(-10,0) -- (\c.east);
\foreach \c in {d6b3a,d6b3b,d6b3c} \draw[sub] (d6b3.west) -- ++(-10,0) -- (\c.east);
\foreach \c in {d6c1,d6c2,d6c3} \draw[sub] (d6c.west) -- ++(-10,0) -- (\c.east);
\draw[sub] (d6c2.west) -- ++(-10,0) -- (d6c2a.east);
\end{tikzpicture}
\end{document}
